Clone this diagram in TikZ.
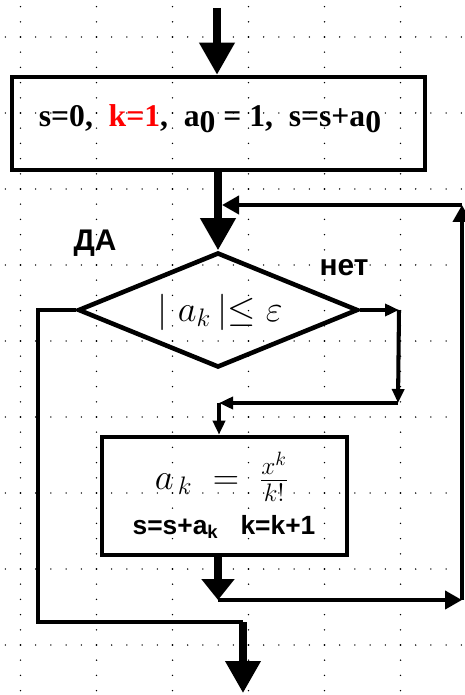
\documentclass[tikz,border=0pt]{standalone}
\usepackage{fontspec}
\setmainfont{Liberation Serif}
\newfontfamily\serifb{Liberation Serif}
\newfontfamily\sansb{Liberation Sans}
\usepackage{xcolor}
\usepackage{graphicx}
\usetikzlibrary{shapes.geometric, arrows.meta, positioning}
\newcommand{\lowsub}[1]{\raisebox{-0.4ex}{#1}}

\begin{document}
\begin{tikzpicture}[x=0.02cm, y=-0.02cm,
    box/.style={draw, line width=2.6pt, inner sep=0pt},
    flow/.style={line width=2.3pt},
    thickflow/.style={line width=4pt},
    bigtip/.style={-{Triangle[length=0.64cm, width=0.68cm]}},
    widetip/.style={-{Triangle[length=0.42cm, width=0.64cm]}},
    smalltip/.style={-{Triangle[length=0.34cm, width=0.36cm]}},
    tinytip/.style={-{Triangle[length=0.28cm, width=0.24cm]}},
    gdot/.style={fill=black}]
    \useasboundingbox (0,0) rectangle (465,695);
    % Dotted grid
    \foreach \cx in {20.5,96.5,172.5,248.5,324.5,400.5} {
        \foreach \j in {0,...,45} {
            \fill[gdot] (\cx,{6.6+15.2*\j}) circle[radius=0.45pt];
        }
    }
    \foreach \ry in {37,113,189,265,341,417,493,569,645} {
        \foreach \i in {0,...,30} {
            \fill[gdot] ({5.3+15.2*\i},\ry) circle[radius=0.45pt];
        }
    }
    % Blocks
    \node[box, minimum width=8.26cm, minimum height=1.86cm] (init) at (218.5,123.5) {};
    \node (inittext) at (210,119) {\serifb\bfseries\fontsize{18}{20}\selectfont
        s=0,\ \ \textcolor{red}{k=1},\ \ a\lowsub{0} = 1,\ \ s=s+a\lowsub{0}};
    \node[box, diamond, minimum width=5.6cm, minimum height=2.3cm] (cond) at (218,310) {};
    \node (condtext) at (220,312) {\fontsize{22}{26}\selectfont $|\;a_k\,|{\le}\;\varepsilon$};
    \node[box, minimum width=4.9cm, minimum height=2.36cm] (body) at (224.5,496) {};
    \node (bodyf) at (222,477) {\fontsize{21}{24}\selectfont $a_{\,k}\;=\;\frac{x^{k}}{k!}$};
    \node (bodys) at (224,527) {\sansb\bfseries\fontsize{15}{18}\selectfont s=s+a\textsubscript{k}\ \ \ k=k+1};
    % Branch labels
    \node (yes) at (95,243) {\sansb\bfseries\fontsize{17}{20}\selectfont ДА};
    \node (no) at (344,268) {\sansb\bfseries\fontsize{17}{20}\selectfont нет};
    % Turning points
    \coordinate (entry) at (217,8);
    \coordinate (jt) at (222,205);
    \coordinate (rt) at (462,205);
    \coordinate (rb) at (462,600);
    \coordinate (jb) at (218,600);
    \coordinate (n1) at (399,310);
    \coordinate (n2) at (398,403);
    \coordinate (n3) at (219,403);
    \coordinate (y1) at (38,310);
    \coordinate (y2) at (38,622);
    \coordinate (y3) at (243,622);
    \coordinate (exit) at (243,693);
    % Main line
    \draw[thickflow, bigtip] (entry) -- (entry |- init.north);
    \draw[thickflow, bigtip] (cond.north |- init.south) -- (cond.north);
    % "no" branch into the body
    \draw[flow, tinytip] (cond.east) -- (n1);
    \draw[flow, tinytip] (n1 |- cond.east) -- (n2);
    \draw[flow, tinytip] (n2) -- (n3);
    \draw[flow, tinytip] (n3) -- (n3 |- body.north);
    % Loop back
    \draw[thickflow, widetip] (jb |- body.south) -- (jb);
    \draw[flow, smalltip] (jb) -- (rb);
    \draw[flow, smalltip] (rb) -- (rt);
    \draw[flow, smalltip] (rt) -- (jt);
    % "yes" branch out
    \draw[flow] (cond.west) -- (y1) -- (y2) -- (y3);
    \draw[thickflow, bigtip] (y3) -- (exit);
\end{tikzpicture}
\end{document}
